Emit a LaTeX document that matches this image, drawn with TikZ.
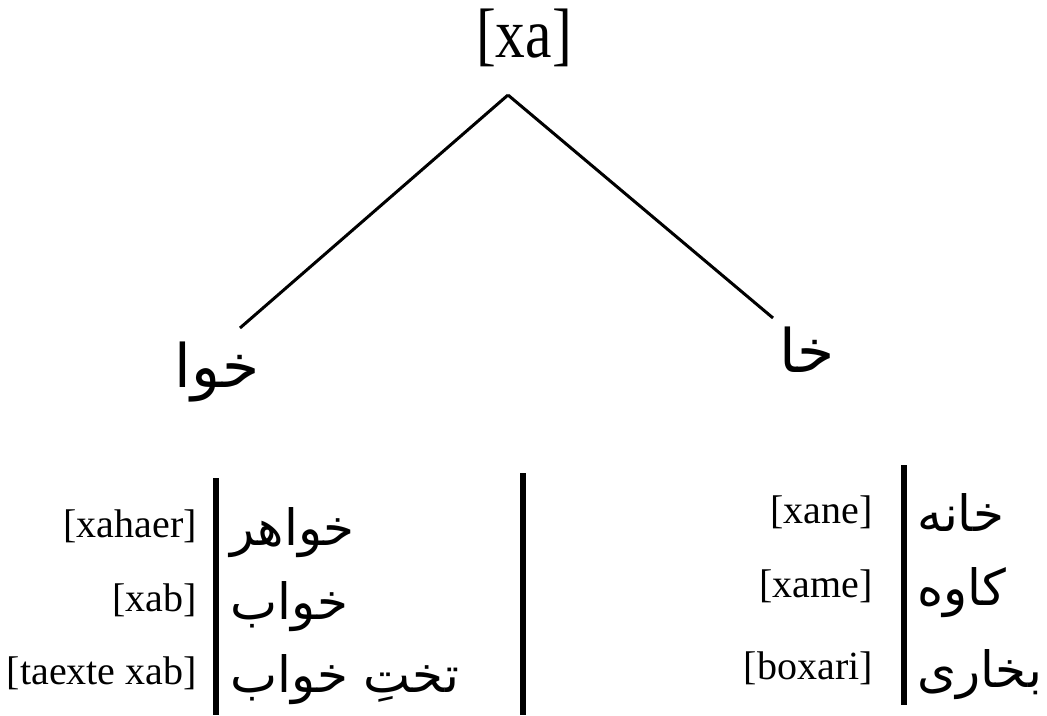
\documentclass[tikz,border=0pt]{standalone}
\usepackage{fontspec}
\setmainfont{Liberation Serif}
\newfontfamily\condserif[FakeStretch=0.85]{Liberation Serif}
\newfontfamily\arabicfont[Script=Arabic]{DejaVu Sans}
\TeXXeTstate=1
\usetikzlibrary{positioning}
\newcommand{\pers}[1]{{\arabicfont\beginR #1\endR}}

\begin{document}
\begin{tikzpicture}[x=1pt, y=-1pt]
    \tikzstyle{gloss}=[inner sep=0pt, anchor=base east, font=\fontsize{40}{42}\selectfont]
    \tikzstyle{word}=[inner sep=0pt, anchor=base west, font=\fontsize{50}{56}\selectfont]
    \tikzstyle{stem}=[inner sep=0pt, font=\fontsize{60}{66}\selectfont]
    \tikzstyle{branch}=[line width=3pt]
    \tikzstyle{sepbar}=[line width=5.5pt]
    \useasboundingbox (0,0) rectangle (1047,715);
    % root and the two spellings
    \node[inner sep=0pt, font=\condserif\fontsize{70}{72}\selectfont] (xa) at (524,38) {[xa]};
    \node[stem] (khwa) at (217,372) {\pers{خوا}};
    \node[stem] (kha) at (807,350) {\pers{خا}};
    \coordinate (apex) at (508,95);
    \coordinate (lend) at (240,328);
    \coordinate (rend) at (773,318);
    \draw[branch] (apex) -- (lend);
    \draw[branch] (apex) -- (rend);
    % left list
    \node[gloss] (g1) at (197,537) {[xahaer]};
    \node[word] (w1) at (230,545) {\pers{خواهر}};
    \node[gloss] (g2) at (197,611) {[xab]};
    \node[word] (w2) at (230,619) {\pers{خواب}};
    \node[gloss] (g3) at (197,684) {[taexte xab]};
    \node[word] (w3) at (230,692) {\pers{تختِ خواب}};
    % right list
    \node[gloss] (g4) at (873,523) {[xane]};
    \node[word] (w4) at (917,531) {\pers{خانه}};
    \node[gloss] (g5) at (873,597) {[xame]};
    \node[word] (w5) at (917,605) {\pers{کاوه}};
    \node[gloss] (g6) at (873,679) {[boxari]};
    \node[word] (w6) at (917,687) {\pers{بخاری}};
    % separators
    \coordinate (b1t) at (216,478);
    \coordinate (b1b) at (216,715);
    \coordinate (b2t) at (523,473);
    \coordinate (b2b) at (523,715);
    \coordinate (b3t) at (904,465);
    \coordinate (b3b) at (904,705);
    \draw[sepbar] (b1t) -- (b1b);
    \draw[sepbar] (b2t) -- (b2b);
    \draw[sepbar] (b3t) -- (b3b);
\end{tikzpicture}
\end{document}
